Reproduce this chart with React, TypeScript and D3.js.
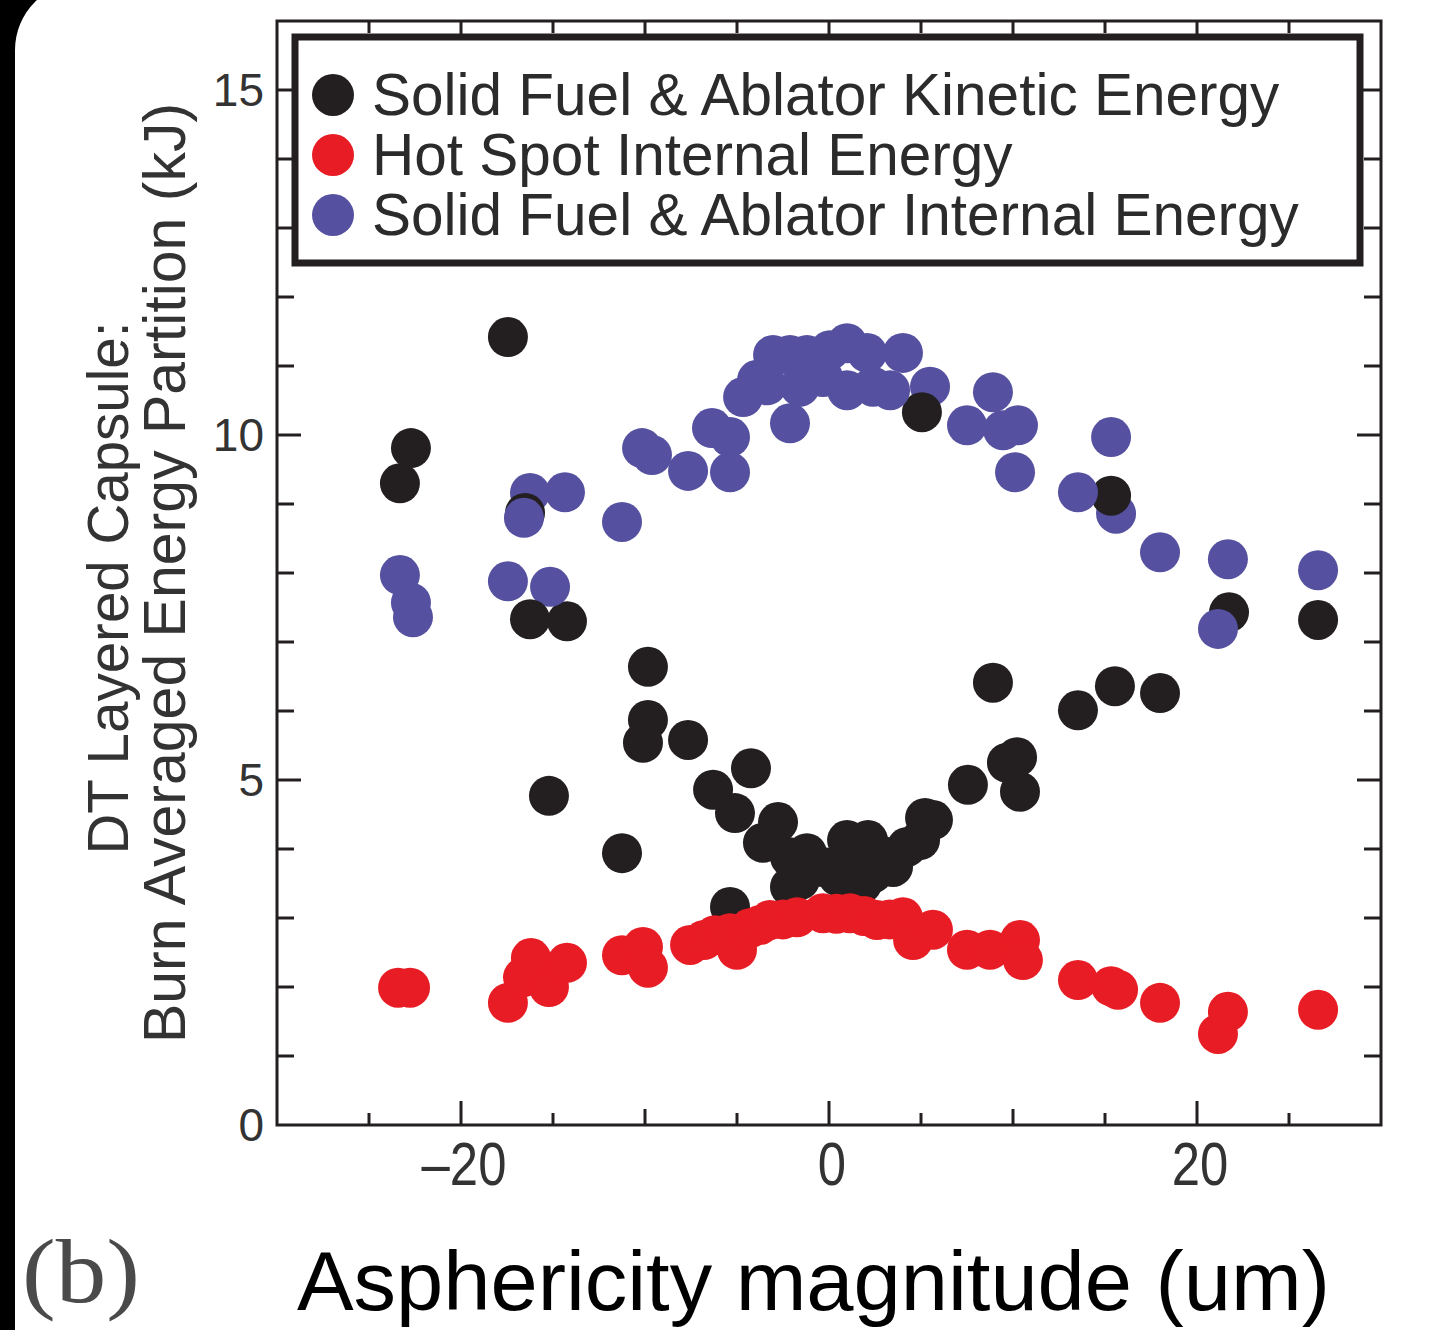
import React from "react";
import * as d3 from "d3";

// Solid fuel & ablator kinetic energy (kJ) vs asphericity (um)
const kineticX = [-23.32, -22.72, -17.45, -16.52, -16.25, -15.22, -14.24, -11.25, -10.11, -9.84, -9.84, -7.66, -6.3, -5.38, -5.11, -4.24, -3.59, -2.77, -2.12, -2.12, -1.58, -1.2, -0.33, 0.5, 0.98, 0.98, 1.8, 2.12, 2.39, 2.9, 3.48, 4.24, 4.95, 5.05, 5.22, 5.65, 7.55, 8.91, 9.67, 10.22, 10.38, 13.53, 15.33, 15.54, 17.99, 21.74, 26.58];
const kineticY = [9.3, 9.81, 11.42, 8.87, 7.33, 4.77, 7.3, 3.94, 5.54, 6.64, 5.87, 5.58, 4.86, 3.16, 4.52, 5.17, 4.09, 4.39, 3.88, 3.45, 3.55, 3.94, 3.74, 3.6, 4.13, 3.65, 3.5, 4.13, 3.65, 3.9, 3.74, 4.03, 4.13, 10.33, 4.45, 4.42, 4.93, 6.41, 5.25, 5.33, 4.83, 6.01, 9.12, 6.36, 6.26, 7.43, 7.32];

// Hot spot internal energy (kJ)
const hotSpotX = [-23.42, -22.77, -17.45, -16.63, -16.2, -15.22, -14.24, -11.25, -10.11, -9.84, -7.55, -6.8, -6.2, -5.38, -5.0, -4.3, -3.75, -3.21, -2.5, -1.74, -0.33, 0.4, 1.14, 1.9, 2.61, 3.3, 4.02, 4.57, 5.65, 7.5, 8.75, 10.38, 10.54, 13.53, 15.33, 15.71, 17.99, 21.14, 21.68, 26.58];
const hotSpotY = [1.99, 1.99, 1.77, 2.14, 2.42, 2.0, 2.35, 2.46, 2.58, 2.28, 2.61, 2.68, 2.75, 2.78, 2.54, 2.85, 2.9, 2.97, 2.98, 3.01, 3.07, 3.06, 3.07, 3.03, 2.97, 2.98, 3.01, 2.68, 2.83, 2.54, 2.54, 2.68, 2.39, 2.1, 2.01, 1.96, 1.77, 1.32, 1.64, 1.67];

// Solid fuel & ablator internal energy (kJ)
const shellInternalX = [-23.32, -22.72, -22.61, -17.45, -16.58, -16.25, -15.16, -14.35, -11.25, -10.16, -9.62, -7.66, -6.36, -5.38, -5.38, -4.67, -3.91, -3.37, -3.04, -2.12, -2.12, -1.58, -1.2, -0.33, 0.05, 0.98, 0.98, 2.07, 2.39, 3.32, 4.02, 5.49, 7.5, 8.91, 9.46, 10.11, 10.27, 13.53, 15.33, 15.6, 17.99, 21.14, 21.68, 26.58];
const shellInternalY = [7.97, 7.57, 7.36, 7.88, 8.8, 9.16, 7.8, 9.17, 8.74, 9.81, 9.71, 9.48, 10.1, 9.97, 9.46, 10.55, 10.8, 10.72, 11.16, 11.16, 10.17, 10.7, 11.16, 10.84, 11.23, 11.33, 10.65, 11.19, 10.7, 10.65, 11.19, 10.7, 10.14, 10.62, 10.07, 9.46, 10.14, 9.17, 9.97, 8.86, 8.3, 7.19, 8.2, 8.04];

const seriesNames = [
  "Solid Fuel & Ablator Kinetic Energy",
  "Hot Spot Internal Energy",
  "Solid Fuel & Ablator Internal Energy",
];
const seriesColors = ["#231f20", "#e81c24", "#5551a0"];

const xTicks = [-25, -20, -15, -10, -5, 0, 5, 10, 15, 20, 25];
const xTickLabels = [-20, 0, 20];
const yTicks = [1, 2, 3, 4, 5, 6, 7, 8, 9, 10, 11, 12, 13, 14, 15];
const yTickLabels = [0, 5, 10, 15];

const SANS = "'Liberation Sans', Arial, Helvetica, sans-serif";
const INK = "#231f20";

type Pt = { x: number; y: number; s: number };

export default function App() {
  const W = 1450;
  const H = 1330;
  const x = d3.scaleLinear().domain([-30, 30]).range([277, 1381]);
  const y = d3.scaleLinear().domain([0, 16]).range([1125, 21]);
  const [x0, x1] = x.range();
  const [y0, y1] = y.range();
  const r = 20;

  const toPoints = (xs: number[], ys: number[], s: number): Pt[] =>
    xs.map((v, i) => ({ x: v, y: ys[i], s }));
  const kinetic = toPoints(kineticX, kineticY, 0);
  const hotSpot = toPoints(hotSpotX, hotSpotY, 1);
  const shell = toPoints(shellInternalX, shellInternalY, 2);

  // shell energies are plotted run by run from the largest asphericity down,
  // with the hot spot series laid on top
  const shellRuns = d3.sort([...kinetic, ...shell], (a, b) => b.x - a.x || a.s - b.s);
  const ordered = [...shellRuns, ...hotSpot];

  const xTickLen = (v: number) => (v % 20 === 0 ? 24 : v % 10 === 0 ? 16 : 12);
  const yTickLen = (v: number) => (v % 5 === 0 ? 24 : 17);

  const plotMidY = (y0 + y1) / 2;

  return (
    <svg
      width={W}
      height={H}
      viewBox={`0 0 ${W} ${H}`}
      style={{ position: "absolute", left: 0, top: 0, display: "block" }}
    >
      <rect x={0} y={0} width={W} height={H} fill="#000" />
      <rect x={15} y={-18} width={W + 200} height={H + 200} rx={68} ry={68} fill="#fff" />

      {/* markers */}
      <g>
        {ordered.map((p, i) => (
          <circle key={i} cx={x(p.x)} cy={y(p.y)} r={r} fill={seriesColors[p.s]} />
        ))}
      </g>

      {/* ticks */}
      <g stroke={INK} strokeWidth={3}>
        {xTicks.map((v) => (
          <g key={`xt${v}`}>
            <line x1={x(v)} x2={x(v)} y1={y0} y2={y0 - xTickLen(v)} />
            <line x1={x(v)} x2={x(v)} y1={y1} y2={y1 + xTickLen(v)} />
          </g>
        ))}
        {yTicks.map((v) => (
          <g key={`yt${v}`}>
            <line x1={x0} x2={x0 + yTickLen(v)} y1={y(v)} y2={y(v)} />
            <line x1={x1} x2={x1 - yTickLen(v)} y1={y(v)} y2={y(v)} />
          </g>
        ))}
      </g>

      {/* frame */}
      <rect x={x0} y={y1} width={x1 - x0} height={y0 - y1} fill="none" stroke={INK} strokeWidth={3} />

      {/* legend */}
      <rect x={295} y={37} width={1065} height={226} fill="#fff" stroke={INK} strokeWidth={7} />
      {seriesNames.map((name, i) => (
        <g key={name}>
          <circle cx={333} cy={95 + i * 60} r={21} fill={seriesColors[i]} />
          <text
            x={372}
            y={95 + i * 60 + 20}
            fontFamily={SANS}
            fontSize={58.5}
            fill="#2b2b2b"
          >
            {name}
          </text>
        </g>
      ))}

      {/* y tick labels */}
      {yTickLabels.map((v) => (
        <text
          key={`yl${v}`}
          x={264}
          y={y(v) + 16}
          textAnchor="end"
          fontFamily={SANS}
          fontSize={46}
          fill="#333"
        >
          {v}
        </text>
      ))}

      {/* x tick labels */}
      {xTickLabels.map((v) => (
        <text
          key={`xl${v}`}
          transform={`translate(${x(v) + 3},1185) scale(0.82,1)`}
          textAnchor="middle"
          fontFamily={SANS}
          fontSize={62}
          fill="#333"
        >
          {v < 0 ? `\u2013${Math.abs(v)}` : `${v}`}
        </text>
      ))}

      {/* y axis title */}
      <g transform={`translate(128,${plotMidY + 15}) rotate(-90)`}>
        <text textAnchor="middle" fontFamily={SANS} fontSize={56.5} fill="#333">
          DT Layered Capsule:
        </text>
      </g>
      <g transform={`translate(185,${plotMidY}) rotate(-90)`}>
        <text textAnchor="middle" fontFamily={SANS} fontSize={59} fill="#333">
          Burn Averaged Energy Partition (kJ)
        </text>
      </g>

      {/* x axis title */}
      <text
        x={297}
        y={1310}
        fontFamily={SANS}
        fontSize={84}
        fill="#000"
        textLength={1033}
        lengthAdjust="spacingAndGlyphs"
      >
        Asphericity magnitude (um)
      </text>

      {/* panel label */}
      <text
        x={22}
        y={1302}
        fontFamily="'Liberation Serif', 'DejaVu Serif', serif"
        fontSize={92}
        fill="#4a4a4a"
        textLength={118}
        lengthAdjust="spacingAndGlyphs"
      >
        (b)
      </text>
    </svg>
  );
}
